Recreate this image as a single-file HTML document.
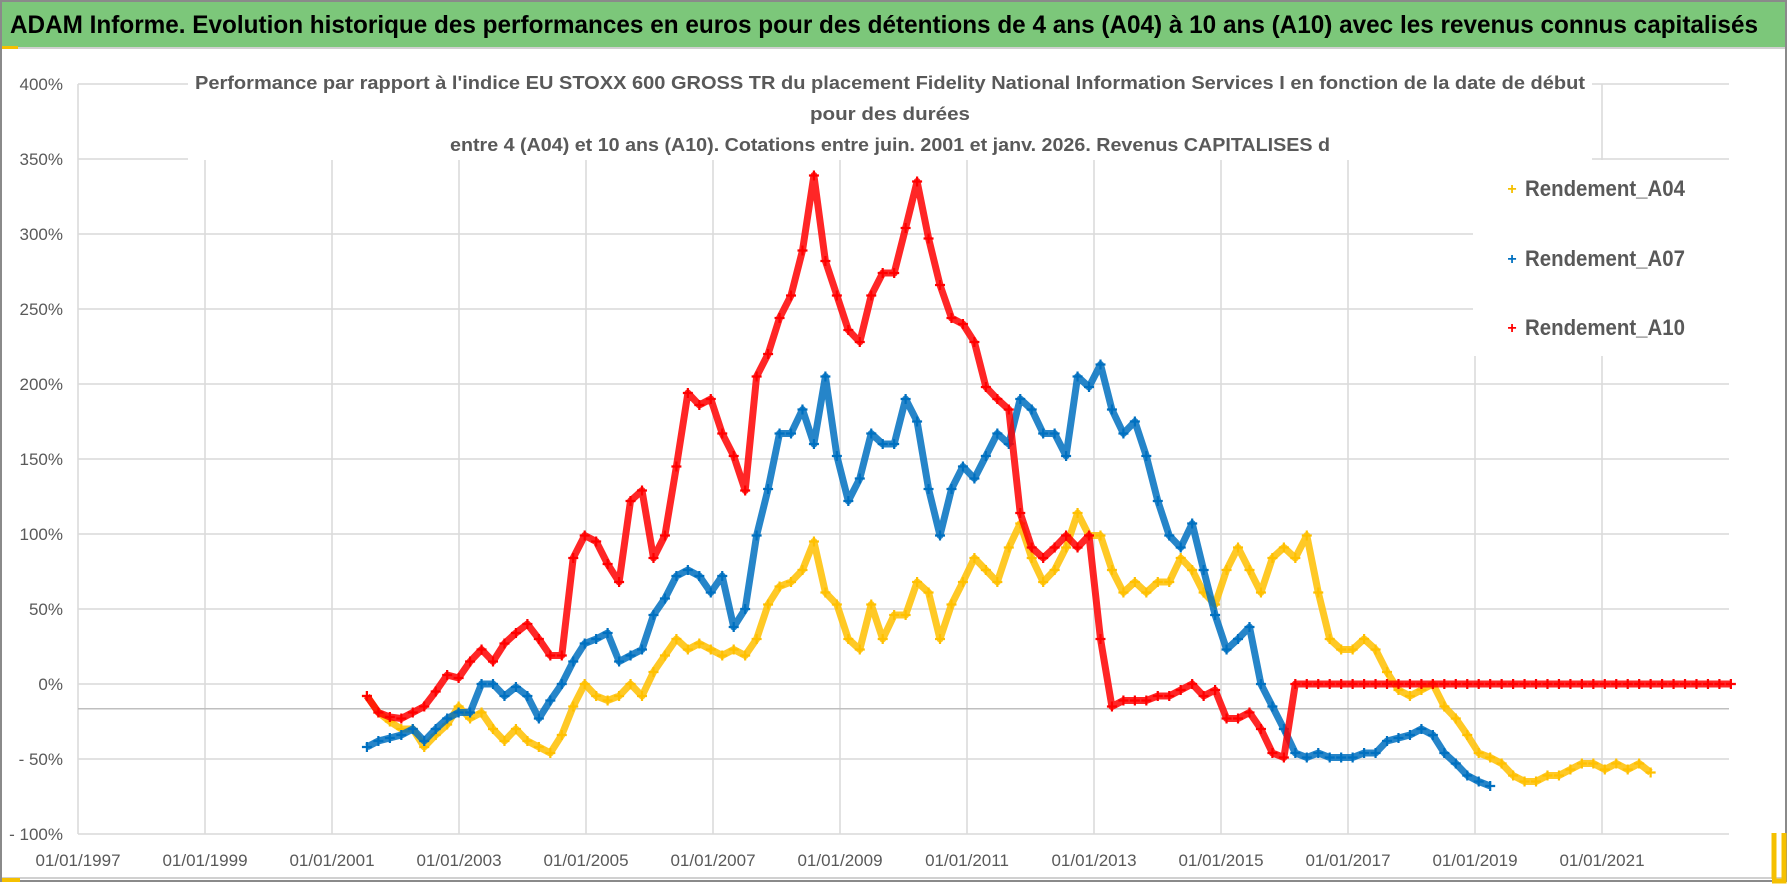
<!DOCTYPE html>
<html><head><meta charset="utf-8">
<style>
html,body{margin:0;padding:0;background:#fff;}
svg{display:block;font-family:"Liberation Sans",sans-serif;}
</style></head>
<body>
<svg id="chart" width="1790" height="886" viewBox="0 0 1790 886" xmlns="http://www.w3.org/2000/svg">
<rect x="1" y="1" width="1785" height="880" fill="#fff" stroke="#8a8a8a" stroke-width="2"/>
<rect x="2" y="2" width="1783" height="45" fill="#7cc77a"/>
<line x1="2" y1="48" x2="1785" y2="48" stroke="#d0d0d0" stroke-width="2"/>
<rect x="2" y="46" width="16" height="3" fill="#f5c000"/>
<line x1="2" y1="878" x2="1785" y2="878" stroke="#d0d0d0" stroke-width="2"/>
<rect x="2" y="878" width="18" height="4" fill="#f5c000"/>
<path d="M1774 833V879H1772M1784 833V881H1772" stroke="#f5c000" stroke-width="5" fill="none"/>
<text x="10" y="33" font-size="25" font-weight="bold" fill="#000" textLength="1748" lengthAdjust="spacingAndGlyphs">ADAM Informe. Evolution historique des performances en euros pour des détentions de 4 ans (A04) à 10 ans (A10) avec les revenus connus capitalisés</text>
<g id="grid"></g>
<g id="ylabels"></g>
<g id="xlabels"></g>
<rect x="188" y="63" width="1404" height="97" fill="#fff"/>
<g fill="#595959" font-weight="bold" font-size="18" text-anchor="middle">
<text x="890" y="89" textLength="1390" lengthAdjust="spacingAndGlyphs">Performance par rapport à l'indice EU STOXX 600 GROSS TR  du placement Fidelity National Information Services I en fonction de la date de début</text>
<text x="890" y="120" textLength="160" lengthAdjust="spacingAndGlyphs">pour des durées</text>
<text x="890" y="151" textLength="880" lengthAdjust="spacingAndGlyphs">entre 4 (A04) et 10 ans (A10). Cotations entre juin. 2001 et janv. 2026. Revenus CAPITALISES d</text>
</g>
<g id="series"></g>
<rect x="1473" y="160" width="262" height="196" fill="#fff"/>
<g font-size="22" font-weight="bold" fill="#595959">
<g><text x="1512" y="194" font-size="16" fill="#f5c000" text-anchor="middle">+</text><text x="1525" y="196" textLength="160" lengthAdjust="spacingAndGlyphs">Rendement_A04</text></g>
<g><text x="1512" y="264" font-size="16" fill="#0070c0" text-anchor="middle">+</text><text x="1525" y="266" textLength="160" lengthAdjust="spacingAndGlyphs">Rendement_A07</text></g>
<g><text x="1512" y="333" font-size="16" fill="#ff0000" text-anchor="middle">+</text><text x="1525" y="335" textLength="160" lengthAdjust="spacingAndGlyphs">Rendement_A10</text></g>
</g>
</svg>
<script>
const yTicks = [400,350,300,250,200,150,100,50,0,-50,-100];
const yTickLabels = ["400%","350%","300%","250%","200%","150%","100%","50%","0%","- 50%","- 100%"];
const xTicks = [1997,1999,2001,2003,2005,2007,2009,2011,2013,2015,2017,2019,2021];
const xTickLabels = ["01/01/1997","01/01/1999","01/01/2001","01/01/2003","01/01/2005","01/01/2007","01/01/2009","01/01/2011","01/01/2013","01/01/2015","01/01/2017","01/01/2019","01/01/2021"];
const seriesStart = 2001.55;
const seriesStep = 0.1805;
const a10Values = [-8,-19,-22,-23,-19,-15,-5,6,4,15,23,15,27,34,40,30,19,19,84,99,95,80,68,122,129,84,99,145,194,186,190,167,152,129,205,220,244,259,289,339,282,259,236,228,259,274,274,304,335,297,266,244,240,228,198,190,183,114,91,84,91,99,91,99,30,-15,-11,-11,-11,-8,-8,-4,0,-8,-4,-23,-23,-19,-30,-46,-49,0,0,0,0,0,0,0,0,0,0,0,0,0,0,0,0,0,0,0,0,0,0,0,0,0,0,0,0,0,0,0,0,0,0,0,0,0,0,0];
const a07Values = [-42,-38,-36,-34,-30,-38,-30,-23,-19,-19,0,0,-8,-2,-8,-23,-11,0,15,27,30,34,15,19,23,46,57,72,76,72,61,72,38,50,99,130,167,167,183,160,205,152,122,137,167,160,160,190,175,130,99,130,145,137,152,167,160,190,183,167,167,152,205,198,213,183,167,175,152,122,99,91,107,76,46,23,30,38,0,-15,-30,-46,-49,-46,-49,-49,-49,-46,-46,-38,-36,-34,-30,-34,-46,-53,-61,-65,-68];
const a04Values = [-8,-19,-25,-30,-30,-42,-34,-27,-15,-23,-19,-30,-38,-30,-38,-42,-46,-34,-15,0,-8,-11,-8,0,-8,8,19,30,23,27,23,19,23,19,30,53,65,68,76,95,61,53,30,23,53,30,46,46,68,61,30,53,68,84,76,68,91,107,84,68,76,91,114,99,99,76,61,68,61,68,68,84,76,61,53,76,91,76,61,84,91,84,99,61,30,23,23,30,23,8,-4,-8,-4,0,-15,-23,-34,-46,-49,-53,-61,-65,-65,-61,-61,-57,-53,-53,-57,-53,-57,-53,-59];

const NS="http://www.w3.org/2000/svg";
const X0=78, PX_PER_YEAR=63.5, Y0=684, PX_PER_PCT=1.5;
function xScale(year){return X0+(year-1997)*PX_PER_YEAR;}
function yScale(v){return Y0-v*PX_PER_PCT;}
const XR=1729;
function mk(tag,attrs,parent){const e=document.createElementNS(NS,tag);for(const k in attrs)e.setAttribute(k,attrs[k]);parent.appendChild(e);return e;}

const grid=document.getElementById('grid');
yTicks.forEach((t,i)=>{
  const l=mk('line',{x1:X0,x2:XR,y1:yScale(t),y2:yScale(t),stroke:'#d9d9d9','stroke-width':1.5},grid);
  
  
  const tx=mk('text',{x:63,y:yScale(t)+6,'text-anchor':'end','font-size':17,fill:'#595959'},document.getElementById('ylabels'));
  tx.textContent=yTickLabels[i];
  
  
});
xTicks.forEach((t,i)=>{
  const l=mk('line',{x1:xScale(t),x2:xScale(t),y1:yScale(400),y2:yScale(-100),stroke:'#d9d9d9','stroke-width':1.5},grid);
  
  
  const tx=mk('text',{x:xScale(t),y:866,'text-anchor':'middle','font-size':17,fill:'#595959'},document.getElementById('xlabels'));
  tx.textContent=xTickLabels[i];
  
  
});
const ax=mk('line',{x1:X0,x2:XR,y1:yScale(-16.5),y2:yScale(-16.5),stroke:'#bfbfbf','stroke-width':1.5},grid);



const seriesG=document.getElementById('series');
function drawSeries(values,color,name){
  const g=mk('g',{},seriesG);
  
  
  const pts=values.map((v,i)=>xScale(seriesStart+i*seriesStep).toFixed(1)+','+yScale(v).toFixed(1)).join(' ');
  const pl=mk('polyline',{points:pts,fill:'none',stroke:color,'stroke-width':7,'stroke-linejoin':'round','stroke-opacity':0.85},g);
  
  
  values.forEach((v,i)=>{
    const x=xScale(seriesStart+i*seriesStep), y=yScale(v);
    const p=mk('path',{d:`M${x-5} ${y}H${x+5}M${x} ${y-5}V${y+5}`,stroke:color,'stroke-width':2.2},g);
    
    
  });
}
drawSeries(a04Values,'#ffc000','series-a04');
drawSeries(a07Values,'#0070c0','series-a07');
drawSeries(a10Values,'#ff0000','series-a10');
</script>
</body></html>
